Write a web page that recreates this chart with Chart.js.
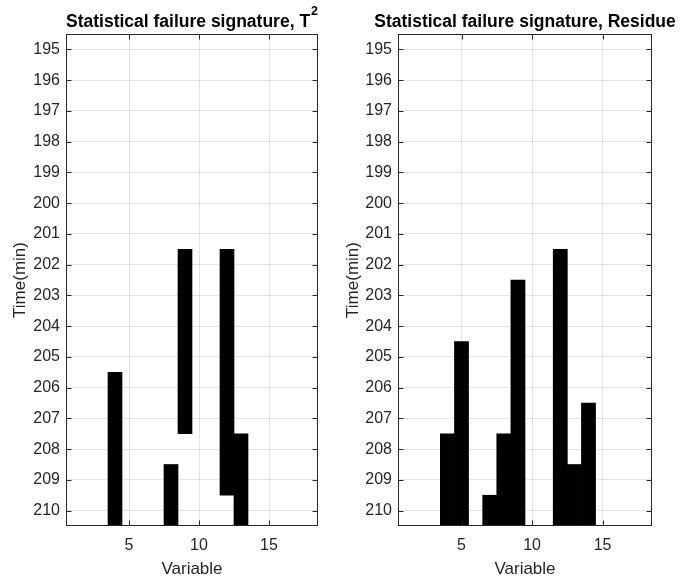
<!DOCTYPE html>
<html>
<head>
<meta charset="utf-8">
<script src="https://cdn.jsdelivr.net/npm/chart.js@4.4.1/dist/chart.umd.min.js"></script>
<style>
  html, body { margin: 0; padding: 0; background: #fff; }
  #wrap { position: relative; width: 680px; height: 580px; }
  .panel { position: absolute; top: 0; width: 340px; height: 580px; }
</style>
</head>
<body>
<div id="wrap">
  <div class="panel" style="left:0"><canvas id="t2Chart" width="340" height="580"></canvas></div>
  <div class="panel" style="left:340px"><canvas id="resChart" width="340" height="580"></canvas></div>
</div>
<script>
// failure cells: one contiguous run of minutes per variable
const t2Vars  = [4, 8, 9, 12, 13];
const t2From  = [206, 209, 202, 202, 208];
const t2To    = [210, 210, 207, 209, 210];

const resVars = [4, 5, 7, 8, 9, 12, 13, 14];
const resFrom = [208, 205, 210, 208, 203, 202, 209, 207];
const resTo   = [210, 210, 210, 210, 210, 210, 210, 210];

const timeTicks = [195, 196, 197, 198, 199, 200, 201, 202, 203, 204, 205, 206, 207, 208, 209, 210];
const varTicks  = [5, 10, 15];

const FONT = '"Liberation Sans", Arial, Helvetica, sans-serif';
const INK = '#262626';

// MATLAB look: full box, inward ticks, title with optional superscript
const matlabAxes = {
  id: 'matlabAxes',
  afterDatasetsDraw(chart, args, opts) {
    const { ctx, chartArea: a, scales: { x, y } } = chart;
    const L = Math.round(a.left) + 0.5, R = Math.round(a.right) - 0.5;
    const T = Math.round(a.top) + 0.5, B = Math.round(a.bottom) - 0.5;
    ctx.save();
    ctx.strokeStyle = INK;
    ctx.lineWidth = 1;
    ctx.beginPath();
    x.ticks.forEach(t => {
      const px = Math.round(x.getPixelForValue(t.value)) + 0.5;
      ctx.moveTo(px, B); ctx.lineTo(px, B - 5);
      ctx.moveTo(px, T); ctx.lineTo(px, T + 5);
    });
    y.ticks.forEach(t => {
      const py = Math.round(y.getPixelForValue(t.value)) + 0.5;
      ctx.moveTo(L, py); ctx.lineTo(L + 5, py);
      ctx.moveTo(R, py); ctx.lineTo(R - 5, py);
    });
    ctx.stroke();
    ctx.strokeRect(L, T, R - L, B - T);

    // title
    ctx.fillStyle = '#000';
    ctx.textBaseline = 'alphabetic';
    ctx.textAlign = 'left';
    ctx.font = 'bold 17.5px ' + FONT;
    const wMain = ctx.measureText(opts.text).width;
    let wSup = 0;
    if (opts.sup) {
      ctx.font = 'bold 12.5px ' + FONT;
      wSup = ctx.measureText(opts.sup).width + 1;
    }
    const x0 = (a.left + a.right) / 2 - (wMain + wSup) / 2;
    ctx.font = 'bold 17.5px ' + FONT;
    ctx.fillText(opts.text, x0, 27);
    if (opts.sup) {
      ctx.font = 'bold 12.5px ' + FONT;
      ctx.fillText(opts.sup, x0 + wMain + 1, 15);
    }
    ctx.restore();
  }
};

function makePanel(canvasId, vars, from, to, title, sup, yWidth, rightPad, yTitlePad) {
  const cells = vars.map((v, i) => ({ x: v, y: [from[i] - 0.5, to[i] + 0.5] }));
  return new Chart(document.getElementById(canvasId), {
    type: 'bar',
    data: {
      datasets: [{
        data: cells,
        backgroundColor: '#000',
        borderWidth: 0,
        barPercentage: 1,
        categoryPercentage: 1
      }]
    },
    options: {
      responsive: false,
      animation: false,
      devicePixelRatio: 1,
      layout: { padding: { top: 34, right: rightPad, left: 0, bottom: 0 } },
      plugins: {
        legend: { display: false },
        tooltip: { enabled: false },
        matlabAxes: { text: title, sup: sup }
      },
      scales: {
        x: {
          type: 'linear', min: 0.5, max: 18.5, offset: false,
          afterBuildTicks: s => { s.ticks = varTicks.map(v => ({ value: v })); },
          afterFit: s => { s.height = 54; },
          grid: { color: 'rgba(38,38,38,0.13)', drawTicks: false, offset: false },
          border: { display: false },
          ticks: { padding: 10, color: INK, font: { family: FONT, size: 16 } },
          title: { display: true, text: 'Variable', color: INK, font: { family: FONT, size: 17 }, padding: { top: 0, bottom: 0 } }
        },
        y: {
          type: 'linear', reverse: true, min: 194.5, max: 210.5,
          afterBuildTicks: s => { s.ticks = timeTicks.map(v => ({ value: v })); },
          afterFit: s => { s.width = yWidth; },
          grid: { color: 'rgba(38,38,38,0.13)', drawTicks: false },
          border: { display: false },
          ticks: { padding: 6, autoSkip: false, color: INK, font: { family: FONT, size: 16 } },
          title: { display: true, text: 'Time(min)', color: INK, font: { family: FONT, size: 17 }, padding: { top: yTitlePad, bottom: 0 } }
        }
      }
    },
    plugins: [matlabAxes]
  });
}

makePanel('t2Chart', t2Vars, t2From, t2To, 'Statistical failure signature, T', '2', 66, 22, 10.5);
makePanel('resChart', resVars, resFrom, resTo, 'Statistical failure signature, Residue', '', 58, 28, 3);
</script>
</body>
</html>
